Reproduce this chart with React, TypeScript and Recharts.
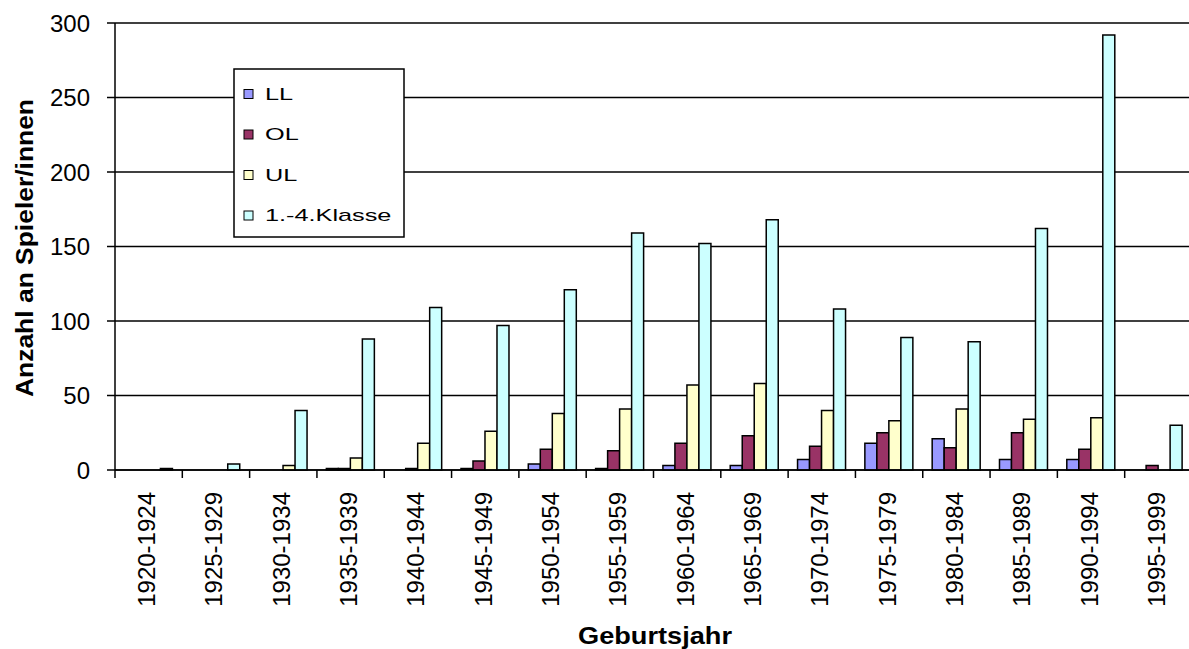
import { Bar, BarChart, CartesianGrid, Label, Legend, XAxis, YAxis } from "recharts";

const birthYears = [
	"1920-1924",
	"1925-1929",
	"1930-1934",
	"1935-1939",
	"1940-1944",
	"1945-1949",
	"1950-1954",
	"1955-1959",
	"1960-1964",
	"1965-1969",
	"1970-1974",
	"1975-1979",
	"1980-1984",
	"1985-1989",
	"1990-1994",
	"1995-1999",
];
const llPlayers = [0, 0, 0, 1, 0, 1, 4, 1, 3, 3, 7, 18, 21, 7, 7, 0];
const olPlayers = [0, 0, 0, 1, 1, 6, 14, 13, 18, 23, 16, 25, 15, 25, 14, 3];
const ulPlayers = [0, 0, 3, 8, 18, 26, 38, 41, 57, 58, 40, 33, 41, 34, 35, 0];
const classPlayers = [1, 4, 40, 88, 109, 97, 121, 159, 152, 168, 108, 89, 86, 162, 292, 30];
const yTicks = [0, 50, 100, 150, 200, 250, 300];

const series = [
	{ key: "ll", name: "LL", color: "#9999ff" },
	{ key: "ol", name: "OL", color: "#993366" },
	{ key: "ul", name: "UL", color: "#ffffcc" },
	{ key: "klasse", name: "1.-4.Klasse", color: "#ccffff" },
];

const data = birthYears.map((year, i) => ({
	year,
	ll: llPlayers[i],
	ol: olPlayers[i],
	ul: ulPlayers[i],
	klasse: classPlayers[i],
}));

const FONT = '"Liberation Sans", Arial, sans-serif';

// Excel puts the x tick marks between categories, so draw them at the band edges
function YearTick(props: any) {
	const { x, y, payload, index, visibleTicksCount } = props;
	const half = payload?.offset || 33.65;
	const axisY = y - 8;
	return (
		<g>
			<line x1={x - half} x2={x - half} y1={axisY} y2={axisY + 8} stroke="#000" strokeWidth={1.5} />
			{index === visibleTicksCount - 1 && (
				<line x1={x + half} x2={x + half} y1={axisY} y2={axisY + 8} stroke="#000" strokeWidth={1.5} />
			)}
			<text
				x={x - 2}
				y={axisY + 22}
				transform={`rotate(-90, ${x - 2}, ${axisY + 22})`}
				textAnchor="end"
				dominantBaseline="central"
				fontSize={24}
				fontFamily={FONT}
				fill="#000"
			>
				{payload.value}
			</text>
		</g>
	);
}

function LegendBox() {
	return (
		<svg width={172} height={170} style={{ display: "block" }}>
			<rect x={1} y={1} width={170} height={168} fill="#fff" stroke="#000" strokeWidth={1.5} />
			{series.map((s, i) => {
				const cy = 26 + i * 40.5;
				return (
					<g key={s.key}>
						<rect x={11} y={cy - 4.5} width={9} height={9} fill={s.color} stroke="#000" strokeWidth={1} />
						<text
							transform={`translate(32, ${cy}) scale(1.58, 1)`}
							dominantBaseline="central"
							fontSize={16}
							fontFamily={FONT}
							fill="#000"
						>
							{s.name}
						</text>
					</g>
				);
			})}
		</svg>
	);
}

export default function App() {
	return (
		<div style={{ width: 1189, height: 649, overflow: "hidden", position: "relative", background: "#fff" }}>
			<style>{"body{margin:0}"}</style>
			<BarChart
				width={1195}
				height={649}
				data={data}
				margin={{ top: 23, right: 3, left: 0, bottom: 0 }}
				barCategoryGap="14%"
				barGap={0}
			>
				<CartesianGrid vertical={false} stroke="#000" strokeWidth={1.5} />
				<XAxis
					dataKey="year"
					height={179}
					interval={0}
					tickSize={8}
					tickMargin={0}
					tickLine={false}
					axisLine={{ stroke: "#000", strokeWidth: 1.5 }}
					tick={<YearTick />}
				>
					<Label
						content={() => (
							<text
								x={655}
								y={644}
								textAnchor="middle"
								fontSize={24}
								fontWeight="bold"
								fontFamily={FONT}
								textLength={154}
								lengthAdjust="spacingAndGlyphs"
								fill="#000"
							>
								Geburtsjahr
							</text>
						)}
					/>
				</XAxis>
				<YAxis
					width={115}
					domain={[0, 300]}
					ticks={yTicks}
					interval={0}
					tickSize={8}
					tickMargin={17}
					axisLine={{ stroke: "#000", strokeWidth: 1.5 }}
					tickLine={{ stroke: "#000", strokeWidth: 1.5 }}
					tick={{ fontSize: 24, fontFamily: FONT, fill: "#000" }}
				>
					<Label
						content={() => (
							<text
								x={24}
								y={248}
								transform="rotate(-90, 24, 248)"
								textAnchor="middle"
								dominantBaseline="central"
								fontSize={24}
								fontWeight="bold"
								fontFamily={FONT}
								textLength={298}
								lengthAdjust="spacingAndGlyphs"
								fill="#000"
							>
								Anzahl an Spieler/innen
							</text>
						)}
					/>
				</YAxis>
				<Legend
					layout="vertical"
					align="center"
					verticalAlign="middle"
					content={() => <LegendBox />}
					wrapperStyle={{ position: "absolute", left: 233, top: 68, width: 172, height: 170 }}
				/>
				{series.map((s) => (
					<Bar
						key={s.key}
						dataKey={s.key}
						name={s.name}
						fill={s.color}
						stroke="#000"
						strokeWidth={1.5}
						isAnimationActive={false}
					/>
				))}
			</BarChart>
		</div>
	);
}
